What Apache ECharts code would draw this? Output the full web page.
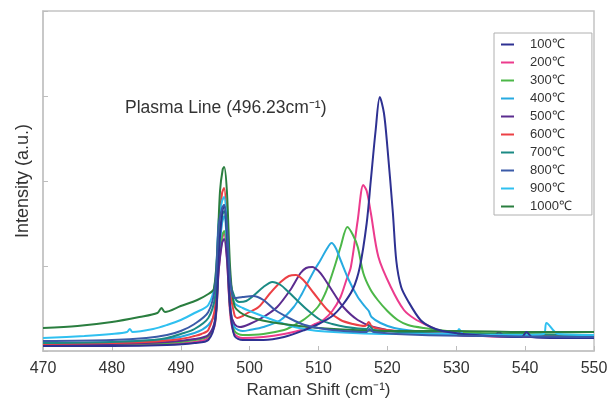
<!DOCTYPE html>
<html>
<head>
<meta charset="utf-8">
<script src="https://cdn.jsdelivr.net/npm/echarts@6/dist/echarts.min.js"></script>
<style>
html,body{margin:0;padding:0;background:#fff;}
#chart{width:616px;height:405px;}
</style>
</head>
<body>
<div id="chart"></div>
<script>
// Series names (temperatures)
const seriesNames = ['100℃','200℃','300℃','400℃','500℃','600℃','700℃','800℃','900℃','1000℃'];

// Raman shift (cm-1) and intensity (a.u.) readings for each temperature
const x100 = [470,480,488,492,494,495,495.5,496,496.3,496.7,497.2,497.8,499,502,505,508,510,512,513.5,515,516,517,517.6,518.3,518.9,519.5,520,520.8,521.3,522,523,524.8,526.3,528,531,535,539.5,540.2,541,545,550];
const y100 = [5,5,6,8,11,30,95,138,146,118,42,15,11,11,14,21,27,35,46,62,84,128,171,221,254,238,204,138,90,64,50,31,24,20,17,15,14,19,14,13,13];

const x200 = [470,480,488,492,494,495,495.5,496,496.3,496.7,497.2,497.8,499,502,505,508,509.5,510.7,512,513.2,514,514.7,515.7,516.5,517,517.6,518.7,520.5,522.4,524,526,528,530,532.5,533.2,534,540,550];
const y200 = [5,6,7,9,13,28,80,112,118,95,35,17,13,14,17,22,27,31,40,54,70,84,131,166,160,138,94,64,41,32,25,19,16,15,19,15,14,14];

const x300 = [470,480,488,492,494,495,495.5,496,496.3,496.7,497.2,497.8,499,502,505,506,508,509.9,511,511.7,512.5,513.2,514.2,515,515.7,516.5,517.5,518.6,520,521.5,523,525.3,530,540,550];
const y300 = [6,7,8,11,15,30,85,115,120,100,40,20,16,17,21,24,32,44,58,71,88,104,124,116,104,78,62,51,40,31,26,23,19,17,16];

const x400 = [470,480,488,492,494,495,495.5,496,496.3,496.7,497.2,497.8,499,500,502,504.5,506.4,507.5,508.4,509.5,510.3,511.2,511.9,512.5,513.2,514.4,515.7,516.8,517.3,517.7,519,521,524,528,533,540,550];
const y400 = [7,9,12,18,26,40,95,128,135,110,45,24,20,21,24,31,44,56,68,82,91,102,108,103,91,71,54,44,40,34,28,23,20,18,16,15,15];

const x500 = [470,480,488,492,494,495,495.5,496,496.3,496.7,497.2,497.8,498.6,500,502,504,505.9,507.4,508.2,509.1,510,510.7,512.2,513.6,515.7,518,522,530,535.5,536.2,537,550];
const y500 = [6,7,9,12,16,32,80,108,112,92,40,27,24,27,34,44,61,78,83,84,80,74,58,44,31,24,19,16,15,19,15,13];

const x600 = [470,480,485,490,492,493,494,495,495.5,496,496.3,496.7,497.2,497.8,498.2,499,499.7,501.3,503,504.5,505.7,506.7,507.8,509.3,511.3,513.2,515,516.8,517.3,517.8,520,525,530,540,550];
const y600 = [7,8,9,12,15,17,21,45,120,158,163,130,60,36,33,35,38,44,58,69,75,76,71,58,41,31,27,25,29,24,21,18,17,15,15];

const x700 = [470,480,486,488,490,492,494,495,495.5,496,496.3,496.7,497.2,497.8,498.5,499.5,500.5,502,503.3,504.5,505.5,506.4,508.4,510.3,512,514,517,517.4,518,525,530,550];
const y700 = [8,9,11,13,17,22,33,55,110,135,140,118,70,54,49,50,55,64,69,66,60,54,41,31,27,24,22,25,21,18,17,16];

const x800 = [470,480,485,488,490,492,494,495,495.5,496,496.3,496.7,497.2,497.8,499,500.5,502,503.7,506,508,510,512,517,517.4,518,525,550];
const y800 = [10,11,13,16,20,27,39,65,125,143,146,125,70,53,54,55,51,41,32,26,23,21,19,22,19,16,14];

const x900 = [470,476,480,482.2,482.6,483,486,488,490,492,494,495,495.5,496,496.3,496.7,497.2,497.8,499,500,503,506,508,510,515,520,525,530,530.4,531,535,540,542.7,543.1,544.8,550];
const y900 = [13,15,17,19,22,19,22,26,31,38,46,70,130,150,154,130,70,48,43,40,32,25,22,20,18,17,17,17,22,17,16,16,17,28,17,16];

const x1000 = [470,475,480,484,486.6,487.2,487.7,490,492.4,494,494.8,495.3,495.7,496.1,496.3,496.7,497.2,497.8,499,501,503,506,510,515,520,530,540,550];
const y1000 = [23,25,29,34,38,43,39,45,51,57,62,100,160,182,184,160,80,45,37,32,29,26,23,21,20,20,19,19];

const seriesX = [x100,x200,x300,x400,x500,x600,x700,x800,x900,x1000];
const seriesY = [y100,y200,y300,y400,y500,y600,y700,y800,y900,y1000];
const seriesColors = ['#2e3192','#ec3b8d','#4cb748','#27aae1','#5b2c8f','#ec4045','#1b8a84','#3b5ba8','#2fc0f0','#2a7e3f'];

const FONT = 'Liberation Sans, Arial, sans-serif';

const chart = echarts.init(document.getElementById('chart'), null, {renderer:'canvas'});

const series = seriesNames.map((name, i) => ({
  name: name,
  type: 'line',
  data: seriesX[i].map((x, j) => [x, seriesY[i][j]]),
  showSymbol: false,
  symbol: 'none',
  smooth: 0.3,
  lineStyle: {width: 2, color: seriesColors[i]},
  itemStyle: {color: seriesColors[i]},
  z: 2 + (i === 0 || i === 7 ? 10 : 0),
  animation: false
}));

chart.setOption({
  animation: false,
  backgroundColor: '#fff',
  grid: {left: 43, right: 22, top: 11, bottom: 54, show: true, borderColor: '#c4c4c4', borderWidth: 1.5},
  xAxis: {
    type: 'value', min: 470, max: 550, interval: 10,
    name: 'Raman Shift (cm⁻¹)', nameLocation: 'middle', nameGap: 31,
    nameTextStyle: {fontSize: 17, color: '#333', fontFamily: FONT},
    axisLine: {show: true, lineStyle: {color: '#c4c4c4', width: 1.5}},
    axisTick: {show: true, inside: true, length: 5, lineStyle: {color: '#bdbdbd'}},
    axisLabel: {fontSize: 16, color: '#333', fontFamily: FONT, margin: 10},
    splitLine: {show: false}
  },
  yAxis: {
    type: 'value', min: 0, max: 340, interval: 85,
    name: 'Intensity (a.u.)', nameLocation: 'middle', nameGap: 11,
    nameTextStyle: {fontSize: 18, color: '#333', fontFamily: FONT},
    axisLine: {show: true, lineStyle: {color: '#c4c4c4', width: 1.5}},
    axisTick: {show: true, inside: true, length: 5, lineStyle: {color: '#bdbdbd'}},
    axisLabel: {show: false},
    splitLine: {show: false}
  },
  legend: {
    orient: 'vertical', left: 494, top: 33,
    padding: [5, 20, 2, 7],
    borderColor: '#b0b0b0', borderWidth: 1,
    icon: 'rect', itemWidth: 13, itemHeight: 2, itemGap: 5,
    textStyle: {fontSize: 13, color: '#333', fontFamily: FONT, lineHeight: 13, padding: [0, 0, 0, 11]},
    data: seriesNames
  },
  graphic: [{
    type: 'text', left: 125, top: 99,
    style: {text: 'Plasma Line (496.23cm⁻¹)', fontSize: 17.5, fill: '#333', fontFamily: FONT}
  }],
  series: series
});
</script>
</body>
</html>
